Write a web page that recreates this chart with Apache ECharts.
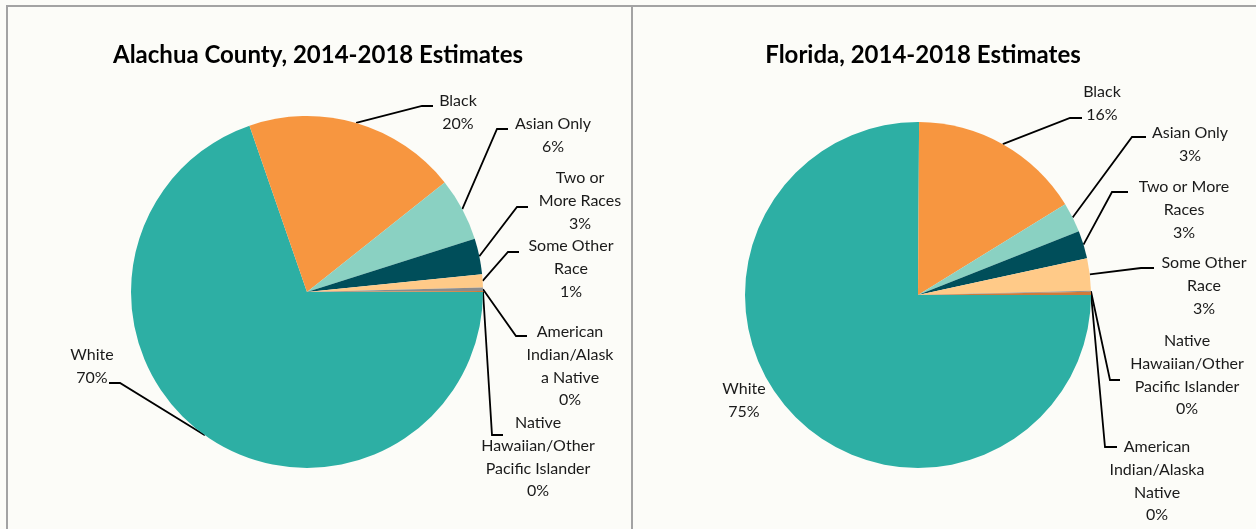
<!DOCTYPE html>
<html>
<head>
<meta charset="utf-8">
<script src="https://cdn.jsdelivr.net/npm/echarts@6/dist/echarts.min.js"></script>
<style>
html, body { margin: 0; padding: 0; background: #fcfcf8; }
#main { width: 1256px; height: 529px; }
</style>
</head>
<body>
<div id="main"></div>
<script>
// slice order: clockwise from 3 o'clock
var alachuaNames = ['White', 'Black', 'Asian Only', 'Two or More Races', 'Some Other Race',
    'American Indian/Alaska Native', 'Native Hawaiian/Other Pacific Islander'];
var alachuaValues = [69.7, 19.6, 5.8, 3.3, 1.2, 0.3, 0.1];
var alachuaLabels = ['White', 'Black', 'Asian Only', 'Two or\nMore Races', 'Some Other\nRace',
    'American\nIndian/Alask\na Native', 'Native\nHawaiian/Other\nPacific Islander'];

var floridaNames = ['White', 'Black', 'Asian Only', 'Two or More Races', 'Some Other Race',
    'Native Hawaiian/Other Pacific Islander', 'American Indian/Alaska Native'];
var floridaValues = [75.1, 16.1, 2.8, 2.6, 3.0, 0.1, 0.3];
var floridaLabels = ['White', 'Black', 'Asian Only', 'Two or More\nRaces', 'Some Other\nRace',
    'Native\nHawaiian/Other\nPacific Islander', 'American\nIndian/Alaska\nNative'];

var sliceColors = ['#2dafa4', '#f79640', '#8ad1c2', '#004e5a', '#ffca88', '#8c8c8c', '#cf7b3a'];

// label placement: [centerX, centerY, lineEndDx, lineEndDy, elbowDx]
var alachuaSpots = [
    [92, 366, 17, 17, 11],
    [458, 112, -25, -6, -11],
    [553, 135, -45, -6, -11],
    [580, 201, -52, 6, -11],
    [571, 269, -52, -17, -11],
    [570, 366, -43, -30, -11],
    [538, 457, -35, -22, -11]
];
var floridaSpots = [
    [744, 400],
    [1102, 103, -20, 15, -12],
    [1190, 144, -44, -7, -14],
    [1184, 210, -56, -18, -16],
    [1204, 286, -50, -18, -13],
    [1187, 375, -67, 5, -10],
    [1157, 481, -40, -34, -12]
];

function makeLayout(spots) {
    return function (params) {
        var s = spots[params.dataIndex];
        var out = { x: s[0], y: s[1], align: 'center', verticalAlign: 'middle' };
        if (s.length > 2 && params.labelLinePoints) {
            var start = params.labelLinePoints[0];
            var end = [s[0] + s[2], s[1] + s[3]];
            var elbow = [end[0] + s[4], end[1]];
            out.labelLinePoints = [start, elbow, end];
        }
        return out;
    };
}

function buildData(names, values, spots) {
    return names.map(function (n, i) {
        var d = { name: n, value: values[i], itemStyle: { color: sliceColors[i] } };
        if (spots[i].length < 3) d.labelLine = { show: false };
        return d;
    });
}

function pieSeries(names, values, labels, spots, center, radius) {
    return {
        type: 'pie',
        center: center,
        radius: radius,
        startAngle: 0,
        clockwise: true,
        avoidLabelOverlap: false,
        data: buildData(names, values, spots),
        itemStyle: { borderWidth: 0 },
        label: {
            show: true,
            position: 'outside',
            fontFamily: 'Lato',
            fontSize: 16,
            lineHeight: 22.7,
            color: '#1a1a1a',
            formatter: function (p) {
                return labels[p.dataIndex] + '\n' + Math.round(p.percent) + '%';
            }
        },
        labelLine: { show: true, length: 10, length2: 10, lineStyle: { color: '#000', width: 1.8 } },
        labelLayout: makeLayout(spots)
    };
}

var myChart = echarts.init(document.getElementById('main'));
var titleStyle = { fontFamily: 'Lato', fontWeight: 'bold', fontSize: 24, color: '#000' };
var option = {
    backgroundColor: '#fcfcf8',
    animation: false,
    title: [
        { text: 'Alachua County, 2014-2018 Estimates', left: 313, top: 38, textAlign: 'center', textStyle: titleStyle },
        { text: 'Florida, 2014-2018 Estimates', left: 918, top: 38, textAlign: 'center', textStyle: titleStyle }
    ],
    graphic: [
        { type: 'line', shape: { x1: 6, y1: 6, x2: 1256, y2: 6 }, style: { stroke: '#a3a3a3', lineWidth: 2 } },
        { type: 'line', shape: { x1: 7, y1: 6, x2: 7, y2: 529 }, style: { stroke: '#a3a3a3', lineWidth: 2 } },
        { type: 'line', shape: { x1: 632, y1: 6, x2: 632, y2: 529 }, style: { stroke: '#a3a3a3', lineWidth: 2 } }
    ],
    series: [
        pieSeries(alachuaNames, alachuaValues, alachuaLabels, alachuaSpots, [307, 292], 176),
        pieSeries(floridaNames, floridaValues, floridaLabels, floridaSpots, [918, 295], 173)
    ]
};
myChart.setOption(option);
</script>
</body>
</html>
